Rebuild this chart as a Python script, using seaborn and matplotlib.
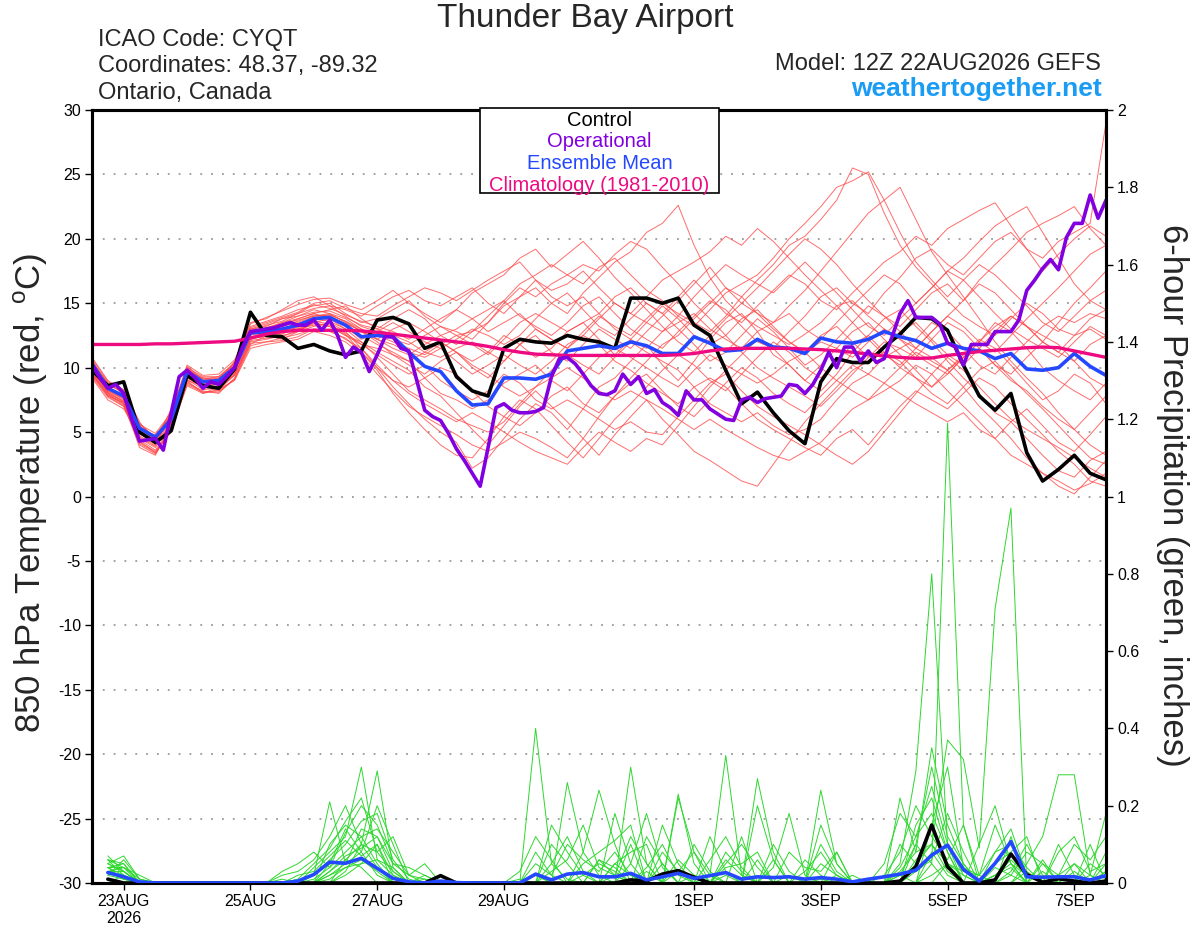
import numpy as np
import pandas as pd
import matplotlib
matplotlib.use("Agg")
import matplotlib.pyplot as plt
from matplotlib.patches import Rectangle
from matplotlib.ticker import FuncFormatter
import seaborn as sns

sns.set_theme(style="white")
plt.rcParams["font.family"] = ["Liberation Sans", "DejaVu Sans"]
plt.rcParams["axes.unicode_minus"] = False
plt.rcParams["mathtext.fontset"] = "custom"
plt.rcParams["mathtext.rm"] = "Liberation Sans"

# ---------------- time axes (hours after 12Z 22AUG2026) ----------------
hours6 = np.arange(0, 385, 6)      # 6-hourly ensemble output
hours3 = np.arange(0, 385, 3)      # 3-hourly operational run
hours_p = hours6[1:]               # 6-hour precip accumulations

tick_hours = [12, 60, 108, 156, 228, 276, 324, 372]
tick_labels = ["23AUG\n2026", "25AUG", "27AUG", "29AUG", "1SEP", "3SEP", "5SEP", "7SEP"]

# ---------------- 850 hPa temperature (C) ----------------
control_t = [9.8, 8.6, 8.9, 5.0, 4.2, 5.1, 9.4, 8.6, 8.4, 9.9,
             14.3, 12.5, 12.4, 11.5, 11.8, 11.3, 11.0, 11.3, 13.7, 13.9,
             13.4, 11.5, 12.0, 9.3, 8.2, 7.8, 11.5, 12.2, 12.0, 11.9,
             12.5, 12.2, 12.0, 11.5, 15.4, 15.4, 15.0, 15.4, 13.3, 12.5,
             9.8, 7.2, 8.1, 6.5, 5.1, 4.1, 8.9, 10.7, 10.4, 10.4,
             11.6, 12.6, 13.9, 13.8, 12.9, 10.2, 7.8, 6.7, 8.0, 3.4,
             1.2, 2.1, 3.2, 1.8, 1.3]

mean_t = [10.3, 8.4, 7.8, 5.3, 4.6, 6.0, 9.7, 8.9, 9.0, 10.0,
          12.7, 12.8, 13.0, 13.3, 13.8, 13.9, 13.3, 12.4, 12.5, 12.4,
          11.2, 10.1, 9.7, 8.2, 7.1, 7.2, 9.2, 9.2, 9.1, 9.5,
          11.3, 11.5, 11.7, 11.5, 12.0, 11.7, 11.1, 11.1, 12.4, 11.9,
          11.3, 11.4, 12.2, 11.6, 11.5, 11.1, 12.3, 12.0, 11.9, 12.2,
          12.8, 12.4, 12.1, 11.5, 11.9, 11.5, 11.3, 10.7, 11.1, 9.9,
          9.8, 10.0, 11.1, 10.1, 9.4]

clim_t = [11.8, 11.8, 11.8, 11.8, 11.85, 11.85, 11.9, 11.95, 12.0, 12.05,
          12.3, 12.6, 12.8, 12.9, 12.9, 12.9, 12.9, 12.85, 12.75, 12.6,
          12.45, 12.3, 12.15, 12.0, 11.85, 11.65, 11.4, 11.2, 11.05, 11.0,
          10.95, 10.95, 10.95, 10.95, 10.95, 10.95, 10.95, 11.0, 11.1, 11.3,
          11.45, 11.5, 11.5, 11.5, 11.5, 11.45, 11.4, 11.3, 11.2, 11.05,
          10.9, 10.8, 10.72, 10.75, 10.95, 11.1, 11.25, 11.35, 11.45, 11.55,
          11.6, 11.55, 11.3, 11.05, 10.8]

oper_t = [10.2, 9.2, 8.4, 8.7, 8.0, 6.0, 4.3, 4.4, 4.5, 3.6,
          6.5, 9.3, 9.8, 9.2, 8.4, 8.9, 8.7, 9.3, 10.0, 11.6,
          12.8, 12.9, 13.0, 13.1, 13.3, 13.5, 13.3, 13.3, 13.7, 12.9,
          13.7, 12.5, 10.8, 11.6, 11.2, 9.7, 11.0, 12.4, 12.4, 11.5,
          11.3, 9.0, 6.7, 6.2, 5.9, 4.9, 3.7, 2.8, 1.8, 0.8,
          3.8, 6.9, 7.2, 6.7, 6.5, 6.5, 6.6, 6.9, 9.3, 10.7,
          10.8, 10.3, 9.5, 8.6, 8.0, 7.9, 8.2, 9.5, 8.7, 9.3,
          8.0, 8.3, 7.3, 6.9, 6.3, 8.2, 7.5, 7.5, 6.8, 6.4,
          6.0, 5.9, 7.5, 7.7, 7.3, 7.6, 7.7, 7.8, 8.7, 8.6,
          8.0, 8.7, 9.8, 11.2, 10.0, 11.6, 11.6, 10.5, 11.3, 10.4,
          10.7, 12.4, 14.2, 15.2, 13.9, 13.9, 13.9, 13.4, 11.9, 11.6,
          10.2, 11.8, 11.8, 11.8, 12.8, 12.8, 12.8, 13.7, 16.0, 16.8,
          17.7, 18.4, 17.6, 20.1, 21.2, 21.2, 23.4, 21.6, 23.0]

# ensemble members (thin red lines), estimated by eye
m01 = [10.8, 9.0, 8.2, 5.8, 4.0, 6.5, 10.2, 9.4, 9.5, 10.6, 13.2, 13.6, 14.0, 14.5, 14.8,
       15.0, 14.2, 13.5, 13.8, 14.5, 15.2, 14.0, 13.2, 12.5, 12.8, 13.5, 14.8, 15.5, 16.2, 15.0,
       14.2, 15.8, 17.0, 18.2, 19.0, 20.5, 21.2, 22.6, 19.5, 17.0, 15.2, 14.0, 13.2, 12.5, 11.8,
       12.6, 13.5, 14.8, 15.2, 14.0, 13.0, 12.2, 11.0, 10.2, 9.5, 10.8, 12.0, 13.5, 12.8, 11.5,
       10.0, 9.0, 8.2, 7.5, 8.8]
m02 = [9.5, 7.8, 7.0, 4.2, 3.5, 5.0, 8.8, 8.2, 8.0, 9.2, 12.0, 12.2, 12.5, 12.8, 13.2,
       13.5, 12.8, 11.5, 10.0, 8.5, 7.2, 6.0, 5.0, 4.2, 2.2, 3.0, 4.5, 6.0, 7.2, 6.5,
       5.2, 6.8, 8.5, 9.2, 10.5, 11.8, 10.2, 9.0, 10.5, 12.2, 13.5, 14.2, 12.8, 11.0, 10.2,
       9.0, 8.2, 9.5, 11.2, 12.5, 13.8, 14.5, 13.2, 12.0, 10.5, 9.2, 8.0, 6.5, 5.8, 4.5,
       3.2, 2.0, 1.5, 2.8, 3.5]
m03 = [10.0, 8.2, 7.5, 5.0, 4.8, 6.2, 9.5, 8.5, 8.8, 9.8, 12.5, 13.0, 13.5, 13.8, 14.2,
       14.5, 14.8, 13.8, 13.0, 12.5, 12.0, 11.2, 10.8, 11.5, 12.0, 11.2, 10.5, 11.8, 13.0, 12.2,
       11.5, 12.8, 14.0, 13.2, 12.5, 13.8, 15.0, 14.2, 13.5, 12.8, 14.0, 15.5, 16.8, 18.0, 19.5,
       20.2, 21.5, 23.0, 25.5, 25.0, 22.0, 19.5, 17.8, 16.5, 15.2, 14.0, 13.2, 12.5, 13.8, 15.0,
       14.2, 13.0, 12.5, 13.8, 14.5]
m04 = [9.8, 8.0, 7.2, 3.8, 3.2, 5.5, 9.0, 8.0, 8.5, 9.5, 11.8, 12.5, 12.2, 12.8, 13.5,
       13.2, 12.5, 12.0, 11.2, 10.5, 9.8, 8.5, 7.8, 6.5, 5.2, 4.0, 5.5, 7.0, 8.2, 7.0,
       5.8, 4.5, 3.2, 4.8, 6.2, 7.5, 6.0, 4.8, 3.5, 2.8, 2.0, 1.2, 0.8, 2.5, 4.2,
       5.8, 7.2, 8.5, 9.8, 10.5, 11.2, 10.0, 9.2, 8.0, 7.2, 8.5, 9.8, 10.5, 9.2, 8.0,
       6.8, 5.5, 4.2, 3.0, 2.5]
m05 = [10.5, 8.8, 8.0, 5.5, 4.2, 6.8, 9.8, 9.2, 9.2, 10.2, 13.0, 13.2, 13.8, 14.0, 14.5,
       14.2, 13.8, 13.0, 12.2, 11.5, 11.0, 11.8, 12.5, 13.0, 13.8, 14.5, 15.2, 14.0, 13.2, 12.5,
       13.5, 14.8, 15.5, 14.2, 13.0, 12.2, 11.5, 12.8, 14.0, 15.2, 14.5, 13.2, 12.0, 11.5, 12.8,
       14.0, 15.5, 16.2, 15.0, 14.2, 15.8, 17.0, 18.5, 19.2, 18.0, 17.2, 18.5, 19.8, 20.5, 19.2,
       18.5, 19.8, 20.5, 21.2, 29.0]
m06 = [10.2, 8.5, 7.8, 4.5, 3.8, 5.8, 9.2, 8.8, 8.2, 9.5, 12.2, 12.8, 13.2, 13.5, 14.0,
       14.2, 13.5, 12.8, 12.0, 11.0, 10.2, 9.5, 10.5, 11.2, 10.0, 9.2, 10.5, 11.8, 12.5, 11.2,
       10.5, 11.8, 13.0, 12.2, 11.5, 12.8, 14.0, 15.2, 16.5, 17.8, 16.2, 15.0, 14.2, 13.5, 14.8,
       16.0, 17.5, 19.0, 20.5, 22.0, 23.0, 24.0, 21.5, 19.0, 17.2, 15.5, 13.8, 12.0, 10.5, 9.2,
       8.0, 6.5, 5.2, 4.0, 3.2]
m07 = [9.2, 7.5, 6.8, 4.8, 4.5, 6.0, 9.0, 8.6, 8.8, 10.5, 13.5, 13.8, 14.5, 15.2, 15.5,
       14.8, 14.5, 14.0, 14.8, 15.5, 16.0, 15.2, 14.8, 15.5, 16.2, 15.0, 14.2, 15.5, 16.8, 16.0,
       16.5, 17.5, 16.2, 15.0, 14.2, 13.5, 12.8, 13.5, 14.2, 13.0, 12.2, 11.5, 12.8, 13.5, 14.2,
       13.0, 12.2, 13.5, 14.8, 16.0, 17.2, 16.5, 15.0, 16.2, 17.5, 18.5, 19.8, 21.0, 21.8, 22.5,
       20.5, 18.5, 16.5, 15.2, 14.5]
m08 = [10.0, 8.2, 7.6, 5.2, 4.5, 6.2, 9.5, 8.8, 9.0, 10.0, 12.8, 13.0, 13.2, 13.8, 14.2,
       13.8, 13.0, 12.5, 11.8, 11.2, 10.5, 9.2, 8.0, 7.5, 6.8, 7.5, 8.8, 9.5, 10.2, 9.0,
       8.2, 9.5, 10.8, 11.5, 10.8, 10.0, 9.2, 8.5, 9.8, 11.0, 10.2, 9.5, 8.8, 9.5, 10.5,
       11.2, 12.0, 11.5, 10.8, 12.0, 13.0, 12.2, 11.5, 10.8, 9.8, 8.5, 7.0, 5.8, 4.5, 3.0,
       1.8, 0.8, 0.2, 1.5, 2.8]
m09 = [10.6, 8.6, 8.2, 5.6, 4.9, 6.5, 10.0, 9.0, 9.2, 10.2, 12.6, 12.6, 12.8, 13.0, 13.5,
       13.8, 13.2, 12.2, 12.8, 13.5, 12.8, 12.0, 11.5, 12.2, 13.0, 12.5, 11.8, 12.5, 13.8, 15.0,
       15.8, 14.5, 13.2, 12.5, 13.8, 15.0, 14.2, 13.0, 11.8, 10.5, 11.2, 12.5, 13.8, 12.8, 11.5,
       10.2, 11.0, 12.2, 13.5, 14.8, 14.0, 13.2, 14.5, 15.8, 16.5, 15.2, 16.8, 18.0, 19.2, 20.5,
       21.2, 21.8, 22.5, 20.8, 19.5]
m10 = [9.6, 8.0, 7.4, 4.0, 3.3, 5.2, 8.6, 8.0, 8.3, 9.0, 11.5, 11.8, 12.0, 12.2, 12.8,
       12.5, 12.0, 11.0, 9.5, 8.2, 7.0, 6.2, 5.5, 4.8, 4.0, 3.5, 4.2, 5.0, 4.5, 3.8,
       3.0, 4.5, 6.2, 7.8, 9.2, 10.5, 11.8, 12.5, 13.8, 15.0, 16.2, 15.5, 14.2, 13.0, 12.0,
       11.2, 10.0, 9.0, 8.2, 7.5, 8.8, 10.0, 11.2, 10.5, 9.8, 10.8, 11.5, 10.2, 9.0, 8.2,
       7.0, 6.0, 5.2, 6.5, 7.8]
m11 = [10.4, 8.4, 7.9, 5.0, 4.4, 6.0, 9.6, 9.0, 8.8, 9.9, 12.9, 13.3, 13.6, 14.2, 14.6,
       14.8, 14.0, 13.2, 12.8, 12.2, 11.8, 12.5, 13.2, 12.8, 12.2, 13.5, 15.0, 16.2, 15.5, 16.5,
       17.2, 18.0, 17.5, 18.8, 19.8, 19.2, 17.8, 16.5, 15.0, 13.8, 12.5, 11.2, 10.0, 9.2, 8.5,
       7.8, 7.0, 8.2, 9.5, 10.8, 12.0, 11.5, 10.8, 12.2, 13.5, 12.8, 11.5, 10.2, 9.5, 10.8,
       12.0, 11.2, 10.5, 11.8, 12.5]
m12 = [9.9, 8.1, 7.3, 4.6, 3.9, 5.6, 9.3, 8.4, 8.6, 9.6, 12.3, 12.4, 12.6, 13.2, 13.8,
       13.6, 13.0, 12.0, 10.8, 9.5, 8.2, 7.5, 6.8, 6.0, 5.5, 5.0, 5.8, 7.2, 8.5, 9.8,
       11.0, 10.2, 9.5, 10.8, 12.0, 11.2, 10.5, 9.8, 8.5, 7.2, 6.5, 5.8, 6.5, 5.5, 4.8,
       5.2, 6.0, 7.5, 8.8, 9.5, 10.8, 11.5, 12.2, 13.5, 12.8, 11.5, 10.2, 9.5, 10.8, 12.0,
       13.2, 14.0, 13.5, 14.2, 13.8]
m13 = [10.1, 8.3, 7.7, 5.4, 4.7, 6.3, 9.9, 9.1, 9.1, 10.4, 13.1, 13.5, 13.9, 14.3, 15.0,
       15.2, 14.6, 14.2, 14.0, 14.8, 15.5, 16.2, 15.8, 15.2, 16.0, 16.8, 17.5, 18.2, 16.8, 15.5,
       14.8, 15.5, 14.2, 13.0, 12.2, 11.5, 12.8, 14.0, 15.5, 16.8, 18.0, 17.2, 16.5, 15.8, 17.0,
       18.2, 17.0, 15.8, 14.5, 13.2, 12.5, 13.8, 15.0, 16.2, 17.5, 16.8, 15.5, 14.2, 13.0, 12.2,
       11.5, 10.8, 12.0, 13.2, 12.5]
m14 = [9.4, 7.9, 7.1, 4.4, 3.6, 5.4, 9.1, 8.3, 8.4, 9.4, 12.1, 12.3, 12.4, 12.9, 13.4,
       13.3, 12.7, 11.8, 11.0, 10.2, 9.5, 10.2, 9.0, 8.2, 7.5, 8.2, 9.5, 8.8, 7.5, 6.8,
       7.5, 6.8, 6.0, 5.2, 5.8, 5.0, 4.8, 6.2, 7.5, 8.8, 9.5, 8.2, 7.0, 6.2, 5.5,
       4.8, 4.0, 3.2, 2.5, 3.5, 5.0, 6.5, 8.0, 9.5, 10.8, 9.8, 8.5, 7.2, 6.0, 5.2,
       4.5, 3.8, 3.0, 2.2, 1.5]
m15 = [9.7, 8.1, 7.4, 4.9, 4.1, 5.9, 9.4, 8.6, 8.7, 9.7, 12.4, 12.6, 12.9, 13.1, 13.6,
       13.4, 12.6, 11.2, 9.8, 8.0, 6.5, 5.2, 4.0, 3.2, 3.0, 4.5, 6.2, 7.5, 6.8, 5.5,
       4.2, 3.0, 4.5, 6.0, 7.2, 8.5, 9.8, 11.0, 10.2, 9.0, 8.2, 9.5, 10.8, 12.0, 11.2,
       10.0, 9.2, 10.5, 11.8, 12.5, 11.2, 10.5, 9.2, 8.5, 9.8, 11.0, 12.2, 11.5, 10.2, 8.8,
       7.5, 8.2, 9.5, 8.8, 7.2]
m16 = [10.3, 8.7, 8.1, 5.6, 4.6, 6.6, 10.0, 9.3, 9.3, 10.3, 13.4, 13.9, 14.4, 14.9, 15.3,
       15.4, 14.9, 14.5, 15.2, 16.0, 15.0, 14.2, 13.5, 14.5, 15.8, 16.5, 17.2, 18.5, 19.2, 17.8,
       18.8, 19.8, 18.5, 17.0, 15.8, 14.5, 13.2, 12.0, 11.2, 12.5, 13.8, 15.0, 16.2, 17.5, 18.8,
       20.0, 19.2, 18.0, 16.5, 15.2, 14.0, 12.8, 11.5, 12.8, 14.0, 15.2, 16.5, 15.8, 14.5, 13.2,
       12.0, 13.5, 15.0, 16.2, 17.5]
m17 = [9.9, 8.3, 7.6, 5.1, 4.3, 6.1, 9.4, 8.7, 8.9, 9.8, 12.6, 12.9, 13.3, 13.6, 14.1,
       14.0, 13.4, 12.9, 12.2, 11.8, 11.2, 10.8, 11.5, 10.5, 9.5, 10.2, 11.0, 10.2, 9.5, 10.5,
       11.8, 12.5, 11.8, 10.5, 9.8, 8.8, 8.0, 7.2, 8.5, 9.2, 8.5, 7.2, 6.0, 5.2, 4.5,
       3.8, 3.2, 4.5, 5.2, 4.0, 5.5, 7.0, 8.2, 7.5, 6.8, 8.0, 9.2, 8.5, 7.2, 6.0,
       4.8, 3.5, 2.5, 1.2, 0.8]
m18 = [10.7, 8.9, 8.3, 5.7, 4.5, 6.4, 10.1, 9.1, 9.3, 10.4, 13.0, 13.4, 13.8, 14.2, 14.9,
       14.6, 14.1, 13.6, 13.2, 12.8, 12.2, 13.0, 13.8, 14.5, 13.8, 12.8, 13.5, 14.2, 13.0, 12.2,
       11.5, 12.5, 13.8, 15.0, 14.2, 15.5, 16.8, 17.5, 18.2, 19.0, 20.2, 19.5, 20.8, 19.8, 18.5,
       17.2, 16.0, 14.8, 13.5, 12.2, 11.0, 10.2, 11.5, 12.8, 14.0, 13.2, 12.0, 11.2, 12.5, 13.8,
       15.0, 16.2, 17.5, 18.8, 19.5]
m19 = [9.3, 7.7, 7.0, 4.3, 3.4, 5.3, 8.9, 8.1, 8.1, 9.1, 11.9, 12.0, 12.3, 12.6, 13.0,
       12.9, 12.2, 11.5, 10.2, 9.0, 8.5, 9.2, 10.0, 9.5, 8.2, 7.0, 6.2, 5.5, 6.5, 7.8,
       8.5, 7.2, 6.5, 7.8, 8.8, 9.5, 8.2, 7.0, 6.2, 7.5, 8.8, 10.0, 9.2, 8.0, 7.2,
       6.5, 7.8, 9.0, 10.2, 9.5, 8.8, 8.0, 7.2, 6.5, 5.8, 6.5, 5.2, 4.5, 5.8, 6.8,
       5.5, 4.2, 3.5, 4.8, 6.2]
m20 = [10.4, 8.8, 8.0, 5.3, 4.6, 6.2, 9.7, 9.2, 9.0, 10.1, 12.8, 13.1, 13.5, 14.0, 14.3,
       14.4, 13.9, 13.3, 13.0, 13.8, 14.5, 13.8, 12.5, 11.8, 12.8, 14.0, 15.2, 16.5, 17.2, 18.0,
       17.2, 16.5, 17.8, 18.5, 17.2, 16.0, 15.2, 14.0, 13.2, 14.5, 15.8, 16.5, 17.2, 18.5, 20.0,
       21.2, 22.5, 24.0, 24.5, 25.2, 23.0, 20.5, 18.2, 16.8, 15.5, 16.8, 18.0, 17.2, 16.0, 14.8,
       13.5, 12.8, 14.0, 15.2, 16.0]
m21 = [9.6, 7.9, 7.2, 4.1, 3.4, 5.2, 8.7, 8.1, 8.2, 9.1, 11.7, 12.0, 12.1, 12.4, 13.0,
       12.8, 12.3, 11.2, 10.0, 9.0, 8.0, 7.2, 6.5, 5.8, 6.5, 5.8, 5.0, 4.2, 3.5, 3.0,
       2.5, 3.8, 5.0, 4.2, 3.5, 4.5, 4.0, 5.5, 7.0, 8.5, 9.8, 11.0, 12.2, 11.5, 10.2,
       9.0, 10.2, 11.5, 12.8, 13.5, 12.2, 11.0, 9.8, 8.5, 9.5, 10.8, 12.0, 13.2, 14.0, 13.2,
       12.5, 11.8, 10.5, 9.2, 8.5]
m22 = [10.1, 8.5, 7.8, 5.2, 4.4, 6.3, 9.6, 8.9, 9.0, 10.0, 12.7, 13.1, 13.4, 13.7, 14.0,
       14.1, 13.6, 13.0, 12.5, 12.0, 11.5, 11.0, 11.8, 12.5, 11.8, 11.0, 12.2, 13.5, 14.2, 13.5,
       12.8, 13.5, 14.2, 15.5, 16.2, 15.0, 14.2, 15.5, 16.8, 15.5, 14.2, 13.5, 14.8, 16.0, 17.2,
       16.5, 15.2, 14.5, 15.8, 17.0, 18.2, 19.0, 20.2, 19.5, 20.8, 21.5, 22.2, 22.8, 21.0, 19.2,
       17.5, 18.8, 20.0, 21.0, 20.2]
m23 = [10.0, 8.4, 7.7, 5.0, 4.2, 6.1, 9.5, 8.7, 8.9, 9.9, 12.6, 12.7, 13.0, 13.4, 13.9,
       14.1, 13.6, 12.8, 12.2, 13.0, 13.5, 12.8, 12.0, 11.2, 10.5, 11.2, 12.5, 11.8, 10.8, 11.5,
       12.8, 13.5, 12.2, 11.0, 12.2, 13.5, 14.8, 13.8, 12.5, 11.8, 12.5, 13.8, 14.5, 13.2, 12.0,
       11.2, 12.5, 13.2, 12.0, 10.8, 11.5, 12.8, 13.5, 12.2, 11.0, 10.2, 11.5, 12.8, 14.0, 13.2,
       12.0, 11.2, 12.5, 13.0, 12.2]
m24 = [9.5, 7.8, 7.3, 4.7, 4.0, 5.7, 9.2, 8.5, 8.5, 9.4, 12.2, 12.5, 12.7, 13.0, 13.3,
       13.2, 12.5, 11.8, 11.5, 11.0, 10.5, 11.2, 12.0, 11.2, 10.2, 9.5, 8.5, 7.8, 8.5, 9.2,
       10.0, 9.2, 8.2, 7.5, 8.2, 7.5, 6.8, 6.0, 5.2, 6.0, 5.2, 4.5, 3.8, 3.2, 2.8,
       3.5, 4.2, 5.5, 6.8, 7.5, 8.2, 9.0, 10.2, 9.5, 8.2, 7.0, 5.8, 4.5, 3.2, 2.5,
       1.8, 1.2, 0.5, 1.0, 1.8]
temp_members = {"m01": m01, "m02": m02, "m03": m03, "m04": m04, "m05": m05, "m06": m06,
                "m07": m07, "m08": m08, "m09": m09, "m10": m10, "m11": m11, "m12": m12,
                "m13": m13, "m14": m14, "m15": m15, "m16": m16, "m17": m17, "m18": m18,
                "m19": m19, "m20": m20, "m21": m21, "m22": m22, "m23": m23, "m24": m24}

# ---------------- 6-hour precipitation (inches), hours 6..384 ----------------
control_p = [0.01, 0, 0, 0, 0, 0, 0, 0,
             0, 0, 0, 0, 0, 0, 0, 0,
             0, 0, 0, 0, 0, 0.019, 0, 0,
             0, 0, 0, 0, 0, 0, 0, 0,
             0, 0.008, 0.005, 0.023, 0.032, 0.015, 0, 0,
             0, 0, 0, 0, 0, 0, 0, 0,
             0, 0, 0.005, 0.042, 0.15, 0.042, 0, 0,
             0.008, 0.075, 0.022, 0.002, 0.011, 0.005, 0, 0.005]
mean_p = [0.027, 0.016, 0.003, 0, 0, 0, 0, 0,
          0, 0, 0, 0, 0.005, 0.022, 0.054, 0.051,
          0.064, 0.038, 0.012, 0.003, 0, 0.005, 0.001, 0,
          0, 0, 0, 0.023, 0.008, 0.023, 0.027, 0.016,
          0.016, 0.025, 0.008, 0.016, 0.025, 0.012, 0.019, 0.027,
          0.01, 0.016, 0.014, 0.016, 0.01, 0.014, 0.01, 0.003,
          0.01, 0.016, 0.023, 0.033, 0.072, 0.098, 0.035, 0.005,
          0.051, 0.107, 0.016, 0.015, 0.016, 0.016, 0.008, 0.019]

p01 = [0.07, 0.03, 0, 0, 0, 0, 0, 0,  0, 0, 0, 0, 0, 0.02, 0.21, 0.05,
       0.08, 0.02, 0, 0, 0, 0, 0, 0,  0, 0, 0.01, 0, 0.05, 0.12, 0.03, 0,
       0, 0.30, 0.05, 0, 0, 0.02, 0, 0,  0, 0, 0, 0, 0.03, 0.08, 0.02, 0,
       0, 0, 0.05, 0.29, 0.80, 0.10, 0, 0,  0.02, 0.05, 0, 0, 0, 0, 0, 0]
p02 = [0.05, 0.07, 0.01, 0, 0, 0, 0, 0,  0, 0, 0, 0, 0, 0.04, 0.08, 0.12,
       0.30, 0.06, 0.02, 0, 0, 0, 0, 0,  0, 0, 0, 0.40, 0.05, 0.01, 0, 0,
       0.05, 0.02, 0, 0, 0, 0, 0.02, 0.33,  0.02, 0, 0, 0, 0, 0, 0, 0,
       0, 0, 0.02, 0.10, 0.05, 1.19, 0.15, 0,  0, 0, 0.03, 0, 0, 0, 0, 0]
p03 = [0.04, 0.05, 0, 0, 0, 0, 0, 0,  0, 0, 0, 0.02, 0.03, 0.06, 0.12, 0.20,
       0.10, 0.29, 0.04, 0, 0.01, 0, 0, 0,  0, 0, 0, 0.02, 0, 0, 0.08, 0.24,
       0.10, 0, 0, 0.05, 0, 0, 0, 0,  0, 0.27, 0.08, 0, 0, 0.01, 0, 0,
       0, 0, 0, 0.05, 0.10, 0.37, 0.32, 0.09,  0.71, 0.97, 0, 0, 0.02, 0.05, 0, 0]
p04 = [0.06, 0.04, 0.02, 0, 0, 0, 0, 0,  0, 0, 0, 0, 0, 0, 0.10, 0.15,
       0.12, 0.05, 0, 0, 0, 0, 0, 0,  0, 0, 0, 0, 0, 0.26, 0.08, 0.02,
       0, 0, 0, 0, 0.23, 0.05, 0, 0,  0, 0, 0, 0, 0, 0.10, 0.03, 0,
       0, 0, 0, 0.15, 0.22, 0.08, 0, 0,  0, 0, 0.05, 0.12, 0.28, 0.28, 0.02, 0]
p05 = [0.03, 0.02, 0, 0, 0, 0, 0, 0,  0, 0, 0, 0.03, 0.05, 0.08, 0.04, 0.13,
       0.20, 0.15, 0.05, 0.02, 0.01, 0, 0, 0,  0, 0, 0, 0, 0, 0, 0, 0,
       0, 0, 0.12, 0.05, 0, 0, 0, 0.02,  0, 0.20, 0.06, 0, 0, 0.05, 0.02, 0,
       0, 0, 0.22, 0.08, 0.10, 0.03, 0, 0,  0.05, 0.08, 0.12, 0, 0, 0, 0.02, 0.18]
p06 = [0.02, 0.01, 0, 0, 0, 0, 0, 0,  0, 0, 0, 0, 0, 0, 0.02, 0.05,
       0.14, 0.12, 0.03, 0, 0, 0, 0, 0,  0, 0, 0, 0, 0, 0, 0.05, 0.08,
       0.11, 0.15, 0, 0, 0, 0, 0.12, 0.03,  0, 0, 0, 0, 0, 0, 0, 0.02,
       0, 0, 0, 0.10, 0.30, 0.12, 0.05, 0,  0.08, 0.14, 0.02, 0, 0, 0, 0, 0.05]
p07 = [0.05, 0.03, 0, 0, 0, 0, 0, 0,  0, 0, 0, 0, 0, 0, 0, 0.03,
       0.10, 0.08, 0.12, 0.02, 0.05, 0, 0, 0,  0, 0, 0, 0, 0, 0, 0, 0,
       0.05, 0.08, 0.10, 0, 0, 0, 0, 0,  0, 0, 0, 0, 0, 0.15, 0.05, 0,
       0, 0, 0, 0, 0.08, 0.02, 0, 0,  0, 0.12, 0, 0.05, 0, 0, 0, 0]
p08 = [0.04, 0.02, 0, 0, 0, 0, 0, 0,  0, 0, 0, 0, 0, 0, 0.05, 0.14,
       0.08, 0.20, 0.10, 0, 0.02, 0, 0, 0,  0, 0, 0, 0.02, 0, 0, 0, 0,
       0.18, 0.05, 0, 0, 0, 0, 0, 0,  0, 0, 0.06, 0, 0, 0, 0, 0,
       0, 0, 0.02, 0, 0.05, 0, 0, 0,  0, 0, 0, 0, 0, 0, 0, 0.08]
p09 = [0.03, 0.04, 0, 0, 0, 0, 0, 0,  0, 0, 0, 0, 0, 0, 0.01, 0.04,
       0.06, 0.03, 0, 0, 0, 0, 0, 0,  0, 0, 0, 0, 0.10, 0.05, 0, 0,
       0, 0.10, 0, 0, 0.22, 0.08, 0, 0,  0, 0, 0, 0, 0, 0, 0.08, 0,
       0, 0, 0, 0, 0.15, 0.05, 0, 0.10,  0.20, 0.05, 0, 0, 0, 0, 0.10, 0]
p10 = [0.02, 0.06, 0.01, 0, 0, 0, 0, 0,  0, 0, 0, 0.01, 0, 0, 0, 0.02,
       0.05, 0.10, 0, 0, 0, 0, 0, 0,  0, 0, 0, 0, 0, 0, 0, 0,
       0.02, 0, 0, 0, 0, 0, 0, 0,  0.12, 0, 0, 0, 0, 0, 0, 0,
       0, 0.05, 0.18, 0.12, 0.25, 0.10, 0.02, 0,  0, 0, 0, 0, 0, 0, 0, 0]
p11 = [0, 0.02, 0, 0, 0, 0, 0, 0,  0, 0, 0, 0, 0, 0, 0.03, 0.06,
       0.04, 0, 0, 0, 0, 0, 0, 0,  0, 0, 0, 0, 0, 0, 0, 0.06,
       0.04, 0, 0, 0.08, 0.03, 0, 0, 0.06,  0.02, 0, 0, 0, 0, 0, 0, 0,
       0, 0, 0, 0, 0, 0.05, 0.03, 0.02,  0.08, 0.10, 0.04, 0, 0, 0.03, 0, 0]
p12 = [0.06, 0.05, 0, 0, 0, 0, 0, 0,  0, 0, 0, 0, 0, 0, 0, 0.06,
       0.10, 0.04, 0, 0, 0, 0, 0, 0,  0, 0, 0, 0, 0, 0, 0, 0,
       0, 0, 0.03, 0, 0, 0, 0, 0.04,  0.05, 0.08, 0, 0, 0, 0.24, 0.05, 0,
       0, 0, 0, 0, 0.02, 0.05, 0, 0,  0, 0, 0, 0.06, 0, 0, 0, 0.03]
p13 = [0.04, 0.01, 0, 0, 0, 0, 0, 0,  0, 0, 0, 0, 0.01, 0.05, 0.09, 0.16,
       0.22, 0.08, 0.03, 0, 0, 0, 0, 0,  0, 0, 0.03, 0.12, 0.06, 0, 0.02, 0,
       0, 0.05, 0.18, 0.04, 0, 0.10, 0.03, 0,  0, 0, 0.04, 0.18, 0.02, 0, 0, 0,
       0, 0.02, 0.08, 0.20, 0.12, 0.06, 0.15, 0.02,  0, 0.03, 0.10, 0.02, 0, 0.05, 0.02, 0]
p14 = [0.05, 0.03, 0, 0, 0, 0, 0, 0,  0, 0, 0, 0, 0, 0.02, 0.06, 0.10,
       0.16, 0.18, 0.06, 0.01, 0, 0, 0, 0,  0, 0, 0, 0, 0.15, 0.08, 0.02, 0.05,
       0.03, 0, 0, 0.15, 0.05, 0, 0, 0.08,  0.03, 0, 0.10, 0.03, 0, 0, 0, 0,
       0, 0, 0.10, 0.05, 0.15, 0.30, 0.04, 0.02,  0.15, 0.05, 0.02, 0, 0.08, 0.12, 0.03, 0.05]
p15 = [0.03, 0.03, 0, 0, 0, 0, 0, 0,  0, 0, 0, 0, 0, 0.01, 0.04, 0.08,
       0.12, 0.14, 0.08, 0.02, 0, 0, 0, 0,  0, 0, 0, 0.05, 0.02, 0.10, 0.06, 0.03,
       0.08, 0.02, 0, 0, 0.06, 0.02, 0, 0.05,  0.10, 0.04, 0, 0, 0.06, 0.02, 0, 0,
       0, 0, 0.04, 0.12, 0.18, 0.08, 0, 0,  0.02, 0.06, 0.02, 0, 0.10, 0.02, 0, 0.03]
p16 = [0.06, 0.02, 0, 0, 0, 0, 0, 0,  0, 0, 0, 0, 0, 0, 0.03, 0.07,
       0.09, 0.12, 0.05, 0.04, 0.02, 0, 0, 0,  0, 0, 0, 0, 0.03, 0.06, 0.15, 0.04,
       0.02, 0.12, 0.05, 0, 0.03, 0.08, 0.02, 0,  0, 0.06, 0, 0.08, 0.04, 0.03, 0.08, 0,
       0, 0, 0, 0.06, 0.10, 0.05, 0.02, 0,  0, 0.02, 0.08, 0.05, 0.02, 0.10, 0.06, 0.12]
p17 = [0.04, 0.04, 0.01, 0, 0, 0, 0, 0,  0, 0, 0, 0, 0.02, 0.03, 0.07, 0.11,
       0.07, 0.10, 0.02, 0, 0, 0, 0, 0,  0, 0, 0, 0.08, 0.02, 0, 0, 0.06,
       0.02, 0, 0.04, 0.10, 0.02, 0, 0.06, 0.12,  0.04, 0, 0, 0.02, 0, 0, 0.02, 0,
       0, 0, 0.03, 0.08, 0.35, 0.15, 0.05, 0,  0.04, 0.02, 0, 0.03, 0, 0, 0.05, 0.02]
p18 = [0.03, 0.01, 0, 0, 0, 0, 0, 0,  0, 0, 0, 0, 0, 0, 0.02, 0.04,
       0.05, 0.06, 0.04, 0, 0, 0, 0, 0,  0, 0, 0, 0, 0, 0, 0, 0,
       0, 0, 0, 0, 0, 0, 0, 0,  0, 0, 0, 0, 0, 0, 0, 0,
       0, 0, 0, 0.03, 0.06, 0.18, 0.08, 0,  0.02, 0.04, 0, 0, 0, 0, 0, 0]
precip_members = {"p01": p01, "p02": p02, "p03": p03, "p04": p04, "p05": p05, "p06": p06,
                  "p07": p07, "p08": p08, "p09": p09, "p10": p10, "p11": p11, "p12": p12,
                  "p13": p13, "p14": p14, "p15": p15, "p16": p16, "p17": p17, "p18": p18}

# ---------------- styling ----------------
C_MEMBER = "#FF4848"
C_PRECIP = "#2ED82E"
C_CONTROL = "#000000"
C_OPER = "#8200E0"
C_MEAN = "#2448FF"
C_CLIM = "#EE0A80"
C_SITE = "#1A9CF5"

for k, v in temp_members.items():
    assert len(v) == len(hours6), (k, len(v))
for k, v in precip_members.items():
    assert len(v) == len(hours_p), (k, len(v))

tm = pd.DataFrame(temp_members)
tm["hour"] = hours6
tm = tm.melt(id_vars="hour", var_name="member", value_name="temp")
pm = pd.DataFrame(precip_members)
pm["hour"] = hours_p
pm = pm.melt(id_vars="hour", var_name="member", value_name="precip")
det = pd.DataFrame({"hour": hours6, "control": control_t, "mean": mean_t, "clim": clim_t})
oper = pd.DataFrame({"hour": hours3, "oper": oper_t})
detp = pd.DataFrame({"hour": hours_p, "control": control_p, "mean": mean_p})

W, H = 1200, 927
fig = plt.figure(figsize=(W / 100, H / 100), dpi=100)
L, R, T, B = 92, 1106, 110, 883
ax = fig.add_axes([L / W, 1 - B / H, (R - L) / W, (B - T) / H])
ax2 = ax.twinx()

# temperature
sns.lineplot(data=tm, x="hour", y="temp", units="member", estimator=None, color=C_MEMBER,
             lw=0.7, alpha=0.8, ax=ax, legend=False, zorder=2)
sns.lineplot(data=det, x="hour", y="control", color=C_CONTROL, lw=2.6, ax=ax, zorder=4)
sns.lineplot(data=det, x="hour", y="mean", color=C_MEAN, lw=2.6, ax=ax, zorder=5)
sns.lineplot(data=det, x="hour", y="clim", color=C_CLIM, lw=2.4, ax=ax, zorder=6)
sns.lineplot(data=oper, x="hour", y="oper", color=C_OPER, lw=2.6, ax=ax, zorder=7)

# precipitation
sns.lineplot(data=pm, x="hour", y="precip", units="member", estimator=None, color=C_PRECIP,
             lw=0.7, ax=ax2, legend=False, zorder=2)
sns.lineplot(data=detp, x="hour", y="control", color=C_CONTROL, lw=2.6, ax=ax2, zorder=4)
sns.lineplot(data=detp, x="hour", y="mean", color=C_MEAN, lw=2.6, ax=ax2, zorder=5)

ax.set_xlim(0, 384)
ax.set_ylim(-30, 30)
ax2.set_ylim(0, 2)
ax.set_xlabel("")
ax.set_ylabel("")
ax2.set_ylabel("")

ax.set_yticks(np.arange(-30, 31, 5))
ax2.set_yticks(np.arange(0, 2.01, 0.2))
ax2.yaxis.set_major_formatter(FuncFormatter(lambda v, p: f"{v:g}"))
ax.set_xticks(tick_hours)
ax.set_xticklabels(tick_labels)

ax.yaxis.grid(True, linestyle=(0, (1, 5)), color="#9a9a9a", lw=1.3)
ax.xaxis.grid(False)
ax2.grid(False)

for a in (ax, ax2):
    for s in a.spines.values():
        s.set_linewidth(2.2)
        s.set_color("black")
ax.tick_params(axis="both", which="major", direction="out", length=5, width=1,
               labelsize=11.5, colors="black", pad=3, left=True, bottom=True)
ax2.tick_params(axis="y", direction="out", length=5, width=1, labelsize=11.5,
                colors="black", pad=3, right=True)
for lab in ax.get_xticklabels():
    lab.set_linespacing(1.15)

# legend box (text only, centered)
lx0, lx1 = (480 - L) / (R - L), (719 - L) / (R - L)
ly0, ly1 = (B - 193) / (B - T), (B - 108) / (B - T)
ax2.add_patch(Rectangle((lx0, ly0), lx1 - lx0, ly1 - ly0, transform=ax2.transAxes,
                        facecolor="white", edgecolor="black", lw=1.2, zorder=10, clip_on=False))
leg_items = [("Control", C_CONTROL, 120), ("Operational", C_OPER, 141),
             ("Ensemble Mean", C_MEAN, 163), ("Climatology (1981-2010)", C_CLIM, 185)]
for txt, col, yp in leg_items:
    ax2.text((lx0 + lx1) / 2, (B - yp) / (B - T), txt, color=col, fontsize=14.5,
             ha="center", va="center", transform=ax2.transAxes, zorder=11)

# titles and annotations
fig.text(585 / W, 1 - 19 / H, "Thunder Bay Airport", fontsize=24, ha="center", va="center")
fig.text(98 / W, 1 - 40 / H, "ICAO Code: CYQT", fontsize=17, ha="left", va="center")
fig.text(98 / W, 1 - 66 / H, "Coordinates: 48.37, -89.32", fontsize=17, ha="left", va="center")
fig.text(98 / W, 1 - 93 / H, "Ontario, Canada", fontsize=17, ha="left", va="center")
fig.text(1101 / W, 1 - 64 / H, "Model: 12Z 22AUG2026 GEFS", fontsize=17, ha="right", va="center")
fig.text(1102 / W, 1 - 89 / H, "weathertogether.net", fontsize=19, fontweight="bold",
         color=C_SITE, ha="right", va="center")
fig.text(31 / W, 1 - 493 / H, r"850 hPa Temperature (red, $^{\mathrm{o}}$C)", fontsize=25,
         rotation=90, ha="center", va="center")
fig.text(1172 / W, 1 - 495 / H, "6-hour Precipitation (green, inches)", fontsize=25,
         rotation=270, ha="center", va="center")

fig.savefig("out.png", dpi=100, facecolor="white")
